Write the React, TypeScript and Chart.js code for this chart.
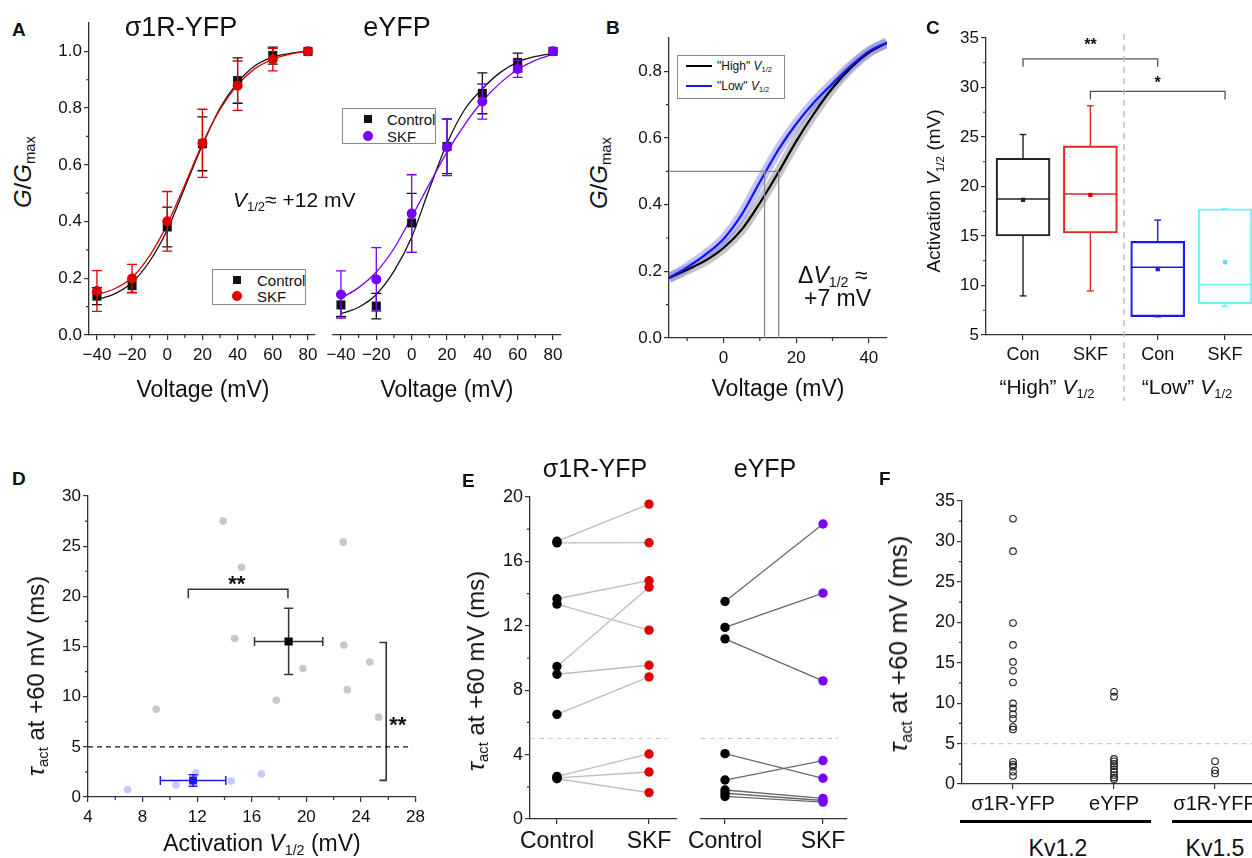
import React, { useEffect, useRef } from 'react';
import { Chart, registerables } from 'chart.js';

Chart.register(...registerables);

const FONT = "'Liberation Sans', Arial, Helvetica, sans-serif";
const AXIS = '#333333';
const INK = '#111111';
const BLACK = '#111111';
const RED = '#e00000';
const PURPLE = '#7800ff';
const BLUE = '#1414f5';
Chart.defaults.font.family = FONT;
Chart.defaults.color = INK;

// ================= Panel A data =================
const voltA = [-40, -20, 0, 20, 40, 60, 80];
const fitVoltA = [-40, -30, -20, -10, 0, 10, 20, 30, 40, 50, 60, 70, 80];
const aVoltTicks = [-40, -20, 0, 20, 40, 60, 80];
const aVoltMinor = [-30, -10, 10, 30, 50, 70];
const aGTicks = [0, 0.2, 0.4, 0.6, 0.8, 1.0];
const aGMinor = [0.1, 0.3, 0.5, 0.7, 0.9];

const s1rControl = [0.137, 0.174, 0.381, 0.674, 0.897, 0.985, 1.0];
const s1rControlErr = [0.03, 0.024, 0.07, 0.095, 0.08, 0.03, 0];
const s1rSkf = [0.155, 0.199, 0.401, 0.676, 0.879, 0.971, 1.0];
const s1rSkfErr = [0.072, 0.05, 0.105, 0.12, 0.087, 0.04, 0];
const s1rControlFit = [0.125, 0.145, 0.185, 0.26, 0.37, 0.52, 0.67, 0.8, 0.89, 0.95, 0.98, 0.993, 1.0];
const s1rSkfFit = [0.143, 0.163, 0.203, 0.28, 0.39, 0.53, 0.675, 0.795, 0.882, 0.94, 0.972, 0.99, 1.0];

const eyfpControl = [0.106, 0.102, 0.395, 0.665, 0.852, 0.961, 1.0];
const eyfpControlErr = [0.04, 0.045, 0.104, 0.096, 0.072, 0.033, 0];
const eyfpSkf = [0.143, 0.196, 0.428, 0.662, 0.823, 0.938, 1.0];
const eyfpSkfErr = [0.083, 0.112, 0.137, 0.1, 0.062, 0.03, 0];
const eyfpControlFit = [0.075, 0.098, 0.143, 0.225, 0.345, 0.515, 0.675, 0.795, 0.868, 0.925, 0.962, 0.982, 0.993];
const eyfpSkfFit = [0.13, 0.167, 0.222, 0.305, 0.416, 0.532, 0.645, 0.742, 0.824, 0.888, 0.936, 0.968, 0.99];

// ================= Panel B data =================
const voltB = [-15, -10, -5, 0, 5, 10, 15, 20, 25, 30, 35, 40, 45];
const highV12Fit = [0.18, 0.205, 0.232, 0.27, 0.325, 0.405, 0.495, 0.59, 0.675, 0.75, 0.81, 0.856, 0.886];
const lowV12Fit = [0.18, 0.212, 0.25, 0.297, 0.37, 0.468, 0.563, 0.642, 0.708, 0.763, 0.816, 0.86, 0.886];
const bVoltTicks = [0, 20, 40];
const bVoltMinor = [-10, 10, 30];
const bGTicks = [0, 0.2, 0.4, 0.6, 0.8];
const bGMinor = [0.1, 0.3, 0.5, 0.7];
const bHalfG = 0.5;
const bLowV12 = 11.3;
const bHighV12 = 15.2;

// ================= Panel C data =================
const cCats = ['Con', 'SKF', 'Con', 'SKF'];
const cQ1 = [15.0, 15.3, 6.85, 8.15];
const cQ3 = [22.85, 24.1, 14.45, 17.75];
const cMedian = [18.75, 19.25, 11.85, 10.1];
const cMean = [18.65, 19.15, 11.65, 12.35];
const cWhiskLow = [8.95, 9.45, 6.85, 7.9];
const cWhiskHigh = [25.25, 28.15, 16.6, 17.75];
const cColors = ['#222222', '#e32626', '#1a1aee', '#6ef0ff'];
const cMeanColors = ['#222222', '#e00000', '#1a1aee', '#55e0ff'];
const cYTicks = [5, 10, 15, 20, 25, 30, 35];
const cYMinor = [7.5, 12.5, 17.5, 22.5, 27.5, 32.5];
const cSepX = 1.5;

// ================= Panel D data =================
const dCtrlV = [13.9, 22.7, 15.25, 14.75, 22.75, 24.65, 19.75, 23.0, 17.8, 9.0, 25.3];
const dCtrlTau = [27.5, 25.4, 22.9, 15.8, 15.15, 13.45, 12.8, 10.7, 9.65, 8.75, 7.95];
const dLowV = [6.9, 10.45, 11.9, 14.5, 16.7];
const dLowTau = [0.75, 1.2, 2.4, 1.6, 2.3];
const dMeanV = [18.7, 11.7];
const dMeanTau = [15.5, 1.65];
const dMeanVErr = [2.5, 2.4];
const dMeanTauErr = [3.3, 0.58];
const dXTicks = [4, 8, 12, 16, 20, 24, 28];
const dXMinor = [6, 10, 14, 18, 22, 26];
const dYTicks = [0, 5, 10, 15, 20, 25, 30];
const dYMinor = [2.5, 7.5, 12.5, 17.5, 22.5, 27.5];

// ================= Panel E data =================
const eCats = ['Control', 'SKF'];
const eS1rCtrl = [17.25, 17.15, 13.68, 13.35, 9.47, 8.99, 6.5, 2.65, 2.55, 2.5];
const eS1rSkf = [19.56, 17.16, 14.8, 11.73, 14.4, 9.55, 8.83, 4.04, 2.92, 1.64];
const eEyfpCtrl = [13.51, 11.9, 11.19, 4.06, 2.42, 1.8, 1.6, 1.4];
const eEyfpSkf = [18.32, 14.03, 8.58, 2.53, 3.63, 1.28, 1.15, 1.05];
const eYTicks = [0, 4, 8, 12, 16, 20];
const eYMinor = [2, 6, 10, 14, 18];

// ================= Panel F data =================
const fCats = ['σ1R-YFP', 'eYFP', 'σ1R-YFP'];
const fS1rKv12 = [32.8, 28.8, 19.9, 17.2, 15.1, 14.0, 12.55, 9.96, 9.35, 8.64, 8.06, 7.07, 6.75, 2.75, 2.4, 2.14, 1.52, 0.99];
const fEyfpKv12 = [11.4, 10.8, 3.1, 2.8, 2.5, 2.2, 1.8, 1.5, 1.1, 0.8, 0.6];
const fS1rKv15 = [2.8, 1.7, 1.3];
const fYTicks = [0, 5, 10, 15, 20, 25, 30, 35];
const fYMinor = [2.5, 7.5, 12.5, 17.5, 22.5, 27.5, 32.5];
const tauThreshold = 5;

// ================= helpers =================
const xy = (xs: number[], ys: number[]) => xs.map((x, i) => ({ x, y: ys[i] }));
const atX = (x: number, ys: number[]) => ys.map((y) => ({ x, y }));
const fmt1 = (v: number) => v.toFixed(1);
const fmtVolt = (v: number) => (v < 0 ? '\u2212' + Math.abs(v) : String(v));

const pts = (data: any[], color: string, style: string, r: number, extra: any = {}) => ({
  type: 'line', data, showLine: false, pointStyle: style, pointRadius: r,
  pointBackgroundColor: color, pointBorderColor: color, pointBorderWidth: 0,
  borderColor: color, backgroundColor: color, ...extra,
});
const curve = (data: any[], color: string, width: number, extra: any = {}) => ({
  type: 'line', data, borderColor: color, borderWidth: width, pointRadius: 0, fill: false,
  cubicInterpolationMode: 'monotone', ...extra,
});
const seg = (data: any[], color: string, width: number, extra: any = {}) => ({
  type: 'line', data, borderColor: color, borderWidth: width, pointRadius: 0, fill: false, tension: 0, ...extra,
});

type AxOpt = {
  min: number; max: number; ticks: number[]; size: number; fixed: number; horizontal: boolean;
  labels?: string[]; fmt?: (v: number) => string; padding?: number; display?: boolean;
};
function ax(o: AxOpt) {
  return {
    type: 'linear', display: o.display !== false, min: o.min, max: o.max, offset: false,
    afterBuildTicks: (s: any) => { s.ticks = o.ticks.map((v) => ({ value: v })); },
    afterFit: (s: any) => { if (o.horizontal) s.height = o.fixed; else s.width = o.fixed; },
    ticks: {
      autoSkip: false, maxRotation: 0, minRotation: 0, padding: o.padding ?? 3, color: INK,
      font: { size: o.size, family: FONT },
      callback: (v: number, i: number) => (o.labels ? o.labels[i] : o.fmt ? o.fmt(v) : String(v)),
    },
    grid: { display: true, offset: false, drawOnChartArea: false, drawTicks: true, tickLength: 5, color: AXIS, lineWidth: 1.2 },
    border: { display: true, color: AXIS, width: 1.3 },
  };
}

const errorBarsPlugin = {
  id: 'errorBars',
  beforeDatasetDraw(chart: any, args: any) {
    const ds: any = chart.data.datasets[args.index];
    if (!ds.errY && !ds.errX) return;
    const meta = args.meta;
    const xs = chart.scales[meta.xAxisID];
    const ys = chart.scales[meta.yAxisID];
    const ctx = chart.ctx;
    const cap = ds.errCap ?? 5;
    ctx.save();
    ctx.strokeStyle = ds.errColor || ds.borderColor;
    ctx.lineWidth = ds.errWidth || 1.3;
    meta.data.forEach((_el: any, i: number) => {
      const p = meta.controller.getParsed(i);
      const px = xs.getPixelForValue(p.x);
      const py = ys.getPixelForValue(p.y);
      ctx.beginPath();
      if (ds.errY && ds.errY[i]) {
        const y1 = ys.getPixelForValue(p.y + ds.errY[i]);
        const y2 = ys.getPixelForValue(p.y - ds.errY[i]);
        ctx.moveTo(px, y1); ctx.lineTo(px, y2);
        ctx.moveTo(px - cap, y1); ctx.lineTo(px + cap, y1);
        ctx.moveTo(px - cap, y2); ctx.lineTo(px + cap, y2);
      }
      if (ds.errX && ds.errX[i]) {
        const x1 = xs.getPixelForValue(p.x - ds.errX[i]);
        const x2 = xs.getPixelForValue(p.x + ds.errX[i]);
        ctx.moveTo(x1, py); ctx.lineTo(x2, py);
        ctx.moveTo(x1, py - cap); ctx.lineTo(x1, py + cap);
        ctx.moveTo(x2, py - cap); ctx.lineTo(x2, py + cap);
      }
      ctx.stroke();
    });
    ctx.restore();
  },
};

function minorTicks(list: { id: string; values: number[]; len?: number }[]) {
  return {
    id: 'minorTicks',
    afterDraw(chart: any) {
      const ctx = chart.ctx;
      ctx.save();
      ctx.strokeStyle = AXIS;
      ctx.lineWidth = 1.2;
      for (const m of list) {
        const s = chart.scales[m.id];
        if (!s || !s.options.display) continue;
        const len = m.len ?? 3;
        ctx.beginPath();
        for (const v of m.values) {
          const p = s.getPixelForValue(v);
          if (s.isHorizontal()) { ctx.moveTo(p, s.top); ctx.lineTo(p, s.top + len); }
          else { ctx.moveTo(s.right, p); ctx.lineTo(s.right - len, p); }
        }
        ctx.stroke();
      }
      ctx.restore();
    },
  };
}

function dataText(items: { x: number; y: number; text: string; size: number; bold?: boolean }[]) {
  return {
    id: 'dataText',
    afterDatasetsDraw(chart: any) {
      const ctx = chart.ctx;
      const xs = chart.scales.x;
      const ys = chart.scales.y;
      ctx.save();
      ctx.textAlign = 'center';
      ctx.textBaseline = 'alphabetic';
      ctx.fillStyle = INK;
      for (const t of items) {
        ctx.font = `${t.bold ? 'bold ' : ''}${t.size}px ${FONT}`;
        ctx.fillText(t.text, xs.getPixelForValue(t.x), ys.getPixelForValue(t.y) + 0.57 * t.size);
      }
      ctx.restore();
    },
  };
}

const cSeparator = {
  id: 'cSeparator',
  afterDraw(chart: any) {
    const ctx = chart.ctx;
    const x = chart.scales.x.getPixelForValue(cSepX);
    ctx.save();
    ctx.strokeStyle = '#bbbbbb';
    ctx.lineWidth = 1.4;
    ctx.setLineDash([6, 5]);
    ctx.beginPath();
    ctx.moveTo(x, chart.chartArea.top - 4);
    ctx.lineTo(x, chart.height - 4);
    ctx.stroke();
    ctx.restore();
  },
};

function cfg(datasets: any[], scales: any, padding: any, plugins: any[] = []) {
  return {
    type: 'line',
    data: { datasets },
    options: {
      responsive: false, maintainAspectRatio: false, animation: false, devicePixelRatio: 1, events: [],
      layout: { padding: { left: 0, right: 0, top: 0, bottom: 0, ...padding } },
      plugins: { legend: { display: false }, tooltip: { enabled: false }, title: { display: false } },
      scales,
    },
    plugins: [errorBarsPlugin, ...plugins],
  };
}

// ================= chart builders =================
type Rect = { l: number; t: number; w: number; h: number };

const rectA1: Rect = { l: 40, t: 10, w: 290, h: 375 };
function buildA1() {
  const datasets = [
    pts(xy(voltA, s1rSkf), RED, 'circle', 5, { errY: s1rSkfErr, errColor: RED }),
    pts(xy(voltA, s1rControl), BLACK, 'rect', 6.4, { errY: s1rControlErr, errColor: BLACK }),
    curve(xy(fitVoltA, s1rSkfFit), RED, 1.3),
    curve(xy(fitVoltA, s1rControlFit), BLACK, 1.3),
  ];
  return cfg(datasets, {
    x: ax({ min: -44.5, max: 84, ticks: aVoltTicks, size: 17, fixed: 50, horizontal: true, fmt: fmtVolt, padding: 5 }),
    y: ax({ min: 0, max: 1.1, ticks: aGTicks, size: 17, fixed: 49, horizontal: false, fmt: fmt1, padding: 2 }),
  }, { top: 13, right: 15 }, [minorTicks([{ id: 'x', values: aVoltMinor }, { id: 'y', values: aGMinor }])]);
}

const rectA2: Rect = { l: 300, t: 10, w: 280, h: 375 };
function buildA2() {
  const datasets = [
    pts(xy(voltA, eyfpSkf), PURPLE, 'circle', 5, { errY: eyfpSkfErr, errColor: PURPLE }),
    pts(xy(voltA, eyfpControl), BLACK, 'rect', 6.4, { errY: eyfpControlErr, errColor: BLACK }),
    curve(xy(fitVoltA, eyfpSkfFit), PURPLE, 1.3),
    curve(xy(fitVoltA, eyfpControlFit), BLACK, 1.3),
  ];
  return cfg(datasets, {
    x: ax({ min: -44.5, max: 84.5, ticks: aVoltTicks, size: 17, fixed: 50, horizontal: true, fmt: fmtVolt, padding: 5 }),
    y: ax({ min: 0, max: 1.1, ticks: aGTicks, size: 17, fixed: 0, horizontal: false, display: false }),
  }, { left: 33, top: 13, right: 19 }, [minorTicks([{ id: 'x', values: aVoltMinor }])]);
}

const rectB: Rect = { l: 620, t: 10, w: 285, h: 375 };
function buildB() {
  const guide = '#8a8a8a';
  const datasets = [
    seg([{ x: voltB[0], y: bHalfG }, { x: bHighV12, y: bHalfG }], guide, 1.3),
    seg([{ x: bLowV12, y: 0 }, { x: bLowV12, y: bHalfG }], guide, 1.3),
    seg([{ x: bHighV12, y: 0 }, { x: bHighV12, y: bHalfG }], guide, 1.3),
    curve(xy(voltB, lowV12Fit), BLUE, 2.2),
    curve(xy(voltB, highV12Fit), '#000000', 2.2),
    curve(xy(voltB, lowV12Fit), 'rgba(110,110,255,0.42)', 10),
    curve(xy(voltB, highV12Fit), 'rgba(120,120,120,0.42)', 10),
  ];
  return cfg(datasets, {
    x: ax({ min: -15, max: 45, ticks: bVoltTicks, size: 17, fixed: 47, horizontal: true, padding: 5 }),
    y: ax({ min: 0, max: 0.9, ticks: bGTicks, size: 17, fixed: 49, horizontal: false, fmt: fmt1, padding: 2 }),
  }, { top: 28, right: 18 }, [minorTicks([{ id: 'x', values: bVoltMinor }, { id: 'y', values: bGMinor }])]);
}

const rectC: Rect = { l: 930, t: 10, w: 342, h: 395 };
function buildC() {
  const half = 0.4;
  const capW = 0.05;
  const lines = cCats.flatMap((_, i) => [
    seg([{ x: i, y: cWhiskLow[i] }, { x: i, y: cQ1[i] }], cColors[i], 1.4),
    seg([{ x: i, y: cQ3[i] }, { x: i, y: cWhiskHigh[i] }], cColors[i], 1.4),
    seg([{ x: i - half, y: cMedian[i] }, { x: i + half, y: cMedian[i] }], cColors[i], 1.5),
    seg([{ x: i - capW, y: cWhiskLow[i] }, { x: i + capW, y: cWhiskLow[i] }], cColors[i], 1.4),
    seg([{ x: i - capW, y: cWhiskHigh[i] }, { x: i + capW, y: cWhiskHigh[i] }], cColors[i], 1.4),
  ]);
  const datasets = [
    {
      type: 'line', data: cCats.map((_, i) => ({ x: i, y: cMean[i] })), showLine: false,
      pointStyle: 'rect', pointRadius: 3, pointBackgroundColor: cMeanColors, pointBorderColor: cMeanColors, pointBorderWidth: 0,
    },
    ...lines,
    {
      type: 'bar', data: cCats.map((_, i) => ({ x: i, y: [cQ1[i], cQ3[i]] })),
      borderColor: cColors, backgroundColor: 'rgba(0,0,0,0)', borderWidth: 1.5, borderSkipped: false,
      barThickness: 54, grouped: false,
    },
    seg([{ x: 0, y: 32.1 }, { x: 0, y: 32.9 }, { x: 2, y: 32.9 }, { x: 2, y: 32.1 }], '#555555', 1.3),
    seg([{ x: 1, y: 28.8 }, { x: 1, y: 29.6 }, { x: 3, y: 29.6 }, { x: 3, y: 28.8 }], '#555555', 1.3),
  ];
  return cfg(datasets, {
    x: ax({ min: -0.55, max: 3.4, ticks: [0, 1, 2, 3], labels: cCats, size: 18, fixed: 70, horizontal: true, padding: 4 }),
    y: ax({ min: 5, max: 35, ticks: cYTicks, size: 17, fixed: 56, horizontal: false, padding: 2 }),
  }, { top: 28, right: 20 }, [
    minorTicks([{ id: 'y', values: cYMinor }]),
    cSeparator,
    dataText([{ x: 1, y: 34.7, text: '**', size: 16, bold: true }, { x: 2, y: 30.9, text: '*', size: 16, bold: true }]),
  ]);
}

const rectD: Rect = { l: 40, t: 470, w: 390, h: 365 };
function buildD() {
  const datasets = [
    pts([{ x: dMeanV[0], y: dMeanTau[0] }], '#000000', 'rect', 5.8, { errX: [dMeanVErr[0]], errY: [dMeanTauErr[0]], errColor: '#333333', errCap: 4.5, errWidth: 1.5 }),
    pts([{ x: dMeanV[1], y: dMeanTau[1] }], '#1a1af0', 'rect', 5.6, { errX: [dMeanVErr[1]], errY: [dMeanTauErr[1]], errColor: '#1a1af0', errCap: 4.5, errWidth: 1.5 }),
    pts(xy(dLowV, dLowTau), '#c8c8ff', 'circle', 3.8),
    pts(xy(dCtrlV, dCtrlTau), '#c8c8c8', 'circle', 3.8),
    seg([{ x: 4, y: tauThreshold }, { x: 27.75, y: tauThreshold }], '#111111', 1.3, { borderDash: [5, 4] }),
    seg([{ x: 11.35, y: 19.8 }, { x: 11.35, y: 20.7 }, { x: 18.65, y: 20.7 }, { x: 18.65, y: 19.8 }], '#333333', 1.5),
    seg([{ x: 25.35, y: 15.4 }, { x: 25.85, y: 15.4 }, { x: 25.85, y: 1.66 }, { x: 25.35, y: 1.66 }], '#333333', 1.6),
  ];
  return cfg(datasets, {
    x: ax({ min: 4, max: 28, ticks: dXTicks, size: 17, fixed: 38, horizontal: true, padding: 5 }),
    y: ax({ min: 0, max: 30, ticks: dYTicks, size: 17, fixed: 48, horizontal: false, padding: 2 }),
  }, { top: 26, right: 13 }, [
    minorTicks([{ id: 'x', values: dXMinor }, { id: 'y', values: dYMinor }]),
    dataText([{ x: 14.9, y: 21.75, text: '**', size: 22, bold: true }, { x: 26.7, y: 7.7, text: '**', size: 22, bold: true }]),
  ]);
}

function pairLines(ctrl: number[], skf: number[], color: string) {
  return ctrl.map((c, i) => seg([{ x: 0, y: c }, { x: 1, y: skf[i] }], color, 1.3));
}

const rectE1: Rect = { l: 465, t: 470, w: 220, h: 388 };
function buildE1() {
  const datasets = [
    pts(atX(1, eS1rSkf), RED, 'circle', 4.7),
    pts(atX(0, eS1rCtrl), '#000000', 'circle', 4.7),
    ...pairLines(eS1rCtrl, eS1rSkf, '#bdbdbd'),
    seg([{ x: -0.293, y: tauThreshold }, { x: 1.196, y: tauThreshold }], '#c8c8c8', 1.2, { borderDash: [5, 4] }),
  ];
  return cfg(datasets, {
    x: ax({ min: -0.293, max: 1.304, ticks: [0, 1], labels: eCats, size: 23, fixed: 39, horizontal: true, padding: 4 }),
    y: ax({ min: 0, max: 20, ticks: eYTicks, size: 18, fixed: 65, horizontal: false, padding: 2 }),
  }, { top: 27, right: 8 }, [minorTicks([{ id: 'y', values: eYMinor }])]);
}

const rectE2: Rect = { l: 670, t: 470, w: 195, h: 388 };
function buildE2() {
  const datasets = [
    pts(atX(1, eEyfpSkf), PURPLE, 'circle', 4.7),
    pts(atX(0, eEyfpCtrl), '#000000', 'circle', 4.7),
    ...pairLines(eEyfpCtrl, eEyfpSkf, '#6a6a6a'),
    seg([{ x: -0.245, y: tauThreshold }, { x: 1.153, y: tauThreshold }], '#c8c8c8', 1.2, { borderDash: [5, 4] }),
  ];
  return cfg(datasets, {
    x: ax({ min: -0.245, max: 1.245, ticks: [0, 1], labels: eCats, size: 23, fixed: 39, horizontal: true, padding: 4 }),
    y: ax({ min: 0, max: 20, ticks: eYTicks, size: 18, fixed: 0, horizontal: false, display: false }),
  }, { left: 31, top: 27, right: 18 });
}

const rectF: Rect = { l: 900, t: 470, w: 372, h: 345 };
function buildF() {
  const open = (data: any[]) => ({
    type: 'line', data, showLine: false, pointStyle: 'circle', pointRadius: 3.3,
    pointBackgroundColor: 'rgba(255,255,255,0)', pointBorderColor: '#222222', pointBorderWidth: 1.1,
  });
  const datasets = [
    open(atX(0, fS1rKv12)),
    open(atX(1, fEyfpKv12)),
    open(atX(2, fS1rKv15)),
    seg([{ x: -0.5, y: tauThreshold }, { x: 2.37, y: tauThreshold }], '#c8c8c8', 1.2, { borderDash: [5, 4] }),
  ];
  return cfg(datasets, {
    x: ax({ min: -0.505, max: 2.366, ticks: [0, 1, 2], labels: fCats, size: 20, fixed: 31, horizontal: true, padding: 3 }),
    y: ax({ min: 0, max: 35, ticks: fYTicks, size: 18, fixed: 62, horizontal: false, padding: 2 }),
  }, { top: 31, right: 20 }, [minorTicks([{ id: 'y', values: fYMinor }])]);
}

// ================= React pieces =================
function ChartCanvas({ rect, build }: { rect: Rect; build: () => any }) {
  const ref = useRef<HTMLCanvasElement | null>(null);
  useEffect(() => {
    if (!ref.current) return;
    const chart = new Chart(ref.current, build() as any);
    return () => chart.destroy();
  }, []);
  return (
    <canvas
      ref={ref}
      width={rect.w}
      height={rect.h}
      style={{ position: 'absolute', left: rect.l, top: rect.t, width: rect.w, height: rect.h }}
    />
  );
}

type TP = { x: number; y: number; size: number; align?: 'left' | 'center' | 'right'; bold?: boolean; color?: string; children: React.ReactNode };
function Txt({ x, y, size, align = 'left', bold, color = INK, children }: TP) {
  const tx = align === 'center' ? '-50%' : align === 'right' ? '-100%' : '0';
  return (
    <div style={{
      position: 'absolute', left: x, top: y - 0.13 * size, fontSize: size, lineHeight: 1, fontFamily: FONT,
      fontWeight: bold ? 700 : 400, color, whiteSpace: 'nowrap', transform: `translateX(${tx})`,
    }}>{children}</div>
  );
}
function VTxt({ cx, cy, size, children }: { cx: number; cy: number; size: number; children: React.ReactNode }) {
  return (
    <div style={{
      position: 'absolute', left: cx, top: cy, fontSize: size, lineHeight: 1, fontFamily: FONT, color: INK,
      whiteSpace: 'nowrap', transform: 'translate(-50%, -50%) rotate(-90deg)',
    }}>{children}</div>
  );
}
const Sub = ({ children }: { children: React.ReactNode }) => (
  <span style={{ fontSize: '0.62em', position: 'relative', top: '0.3em' }}>{children}</span>
);
const Box = ({ l, t, w, h, bg, border, radius }: { l: number; t: number; w: number; h: number; bg?: string; border?: string; radius?: string }) => (
  <div style={{ position: 'absolute', left: l, top: t, width: w, height: h, background: bg, border, borderRadius: radius, boxSizing: 'border-box' }} />
);

function Overlays() {
  return (
    <>
      {/* panel letters */}
      <Txt x={12} y={22} size={19} bold>A</Txt>
      <Txt x={606} y={20} size={19} bold>B</Txt>
      <Txt x={926} y={20} size={19} bold>C</Txt>
      <Txt x={12} y={471} size={19} bold>D</Txt>
      <Txt x={462} y={473} size={19} bold>E</Txt>
      <Txt x={879} y={471} size={19} bold>F</Txt>

      {/* Panel A */}
      <Txt x={181} y={18} size={27} align="center">σ1R-YFP</Txt>
      <Txt x={397} y={18} size={27} align="center">eYFP</Txt>
      <Txt x={233} y={192} size={21}><i>V</i><Sub>1/2</Sub>≈ +12 mV</Txt>
      <Txt x={203} y={381} size={23} align="center">Voltage (mV)</Txt>
      <Txt x={447} y={381} size={23} align="center">Voltage (mV)</Txt>
      <VTxt cx={23} cy={172} size={24}><i>G</i>/<i>G</i><Sub>max</Sub></VTxt>

      <Box l={212} t={269} w={94} h={36} border="1px solid #8a8a8a" bg="#fff" />
      <Box l={233} t={276} w={8} h={8} bg={BLACK} />
      <Box l={232} t={291} w={10} h={10} bg={RED} radius="50%" />
      <Txt x={257} y={274.6} size={15}>Control</Txt>
      <Txt x={257} y={290.6} size={15}>SKF</Txt>

      <Box l={342} t={108} w={94} h={36} border="1px solid #8a8a8a" bg="#fff" />
      <Box l={364} t={115} w={8} h={8} bg={BLACK} />
      <Box l={363} t={131} w={10} h={10} bg={PURPLE} radius="50%" />
      <Txt x={387} y={113.6} size={15}>Control</Txt>
      <Txt x={387} y={130.6} size={15}>SKF</Txt>

      {/* Panel B */}
      <Txt x={778} y={380} size={23} align="center">Voltage (mV)</Txt>
      <VTxt cx={599} cy={173} size={24}><i>G</i>/<i>G</i><Sub>max</Sub></VTxt>
      <Box l={677} t={55} w={108} h={44} border="1px solid #8a8a8a" bg="#fff" />
      <Box l={686} t={65} w={26} h={2} bg="#000" />
      <Box l={686} t={85} w={26} h={2} bg={BLUE} />
      <Txt x={717} y={61.7} size={12}>"High" <i>V</i><Sub>1/2</Sub></Txt>
      <Txt x={717} y={81.7} size={12}>"Low" <i>V</i><Sub>1/2</Sub></Txt>
      <Txt x={798} y={267} size={23}>Δ<i>V</i><Sub>1/2</Sub> ≈</Txt>
      <Txt x={804} y={290} size={23}>+7 mV</Txt>

      {/* Panel C */}
      <VTxt cx={933} cy={191} size={19}>Activation <i>V</i><Sub>1/2</Sub> (mV)</VTxt>
      <Txt x={1047} y={379} size={21} align="center">“High” <i>V</i><Sub>1/2</Sub></Txt>
      <Txt x={1187} y={379} size={21} align="center">“Low” <i>V</i><Sub>1/2</Sub></Txt>

      {/* Panel D */}
      <Txt x={262} y={835} size={23} align="center">Activation <i>V</i><Sub>1/2</Sub> (mV)</Txt>
      <VTxt cx={36} cy={676} size={24}><i>τ</i><Sub>act</Sub> at +60 mV (ms)</VTxt>

      {/* Panel E */}
      <Txt x={595} y={459} size={25} align="center">σ1R-YFP</Txt>
      <Txt x={765} y={459} size={25} align="center">eYFP</Txt>
      <VTxt cx={476} cy={671} size={24}><i>τ</i><Sub>act</Sub> at +60 mV (ms)</VTxt>

      {/* Panel F */}
      <VTxt cx={898} cy={644} size={26}><i>τ</i><Sub>act</Sub> at +60 mV (ms)</VTxt>
      <Box l={960} t={820} w={191} h={3} bg="#000" />
      <Box l={1172} t={820} w={90} h={3} bg="#000" />
      <Txt x={1058} y={840} size={23} align="center">Kv1.2</Txt>
      <Txt x={1215} y={840} size={23} align="center">Kv1.5</Txt>
    </>
  );
}

export default function App() {
  return (
    <div style={{ position: 'absolute', left: 0, top: 0, width: 1252, height: 858, overflow: 'hidden', background: '#fff' }}>
      <ChartCanvas rect={rectA1} build={buildA1} />
      <ChartCanvas rect={rectA2} build={buildA2} />
      <ChartCanvas rect={rectB} build={buildB} />
      <ChartCanvas rect={rectC} build={buildC} />
      <ChartCanvas rect={rectD} build={buildD} />
      <ChartCanvas rect={rectE1} build={buildE1} />
      <ChartCanvas rect={rectE2} build={buildE2} />
      <ChartCanvas rect={rectF} build={buildF} />
      <Overlays />
    </div>
  );
}
